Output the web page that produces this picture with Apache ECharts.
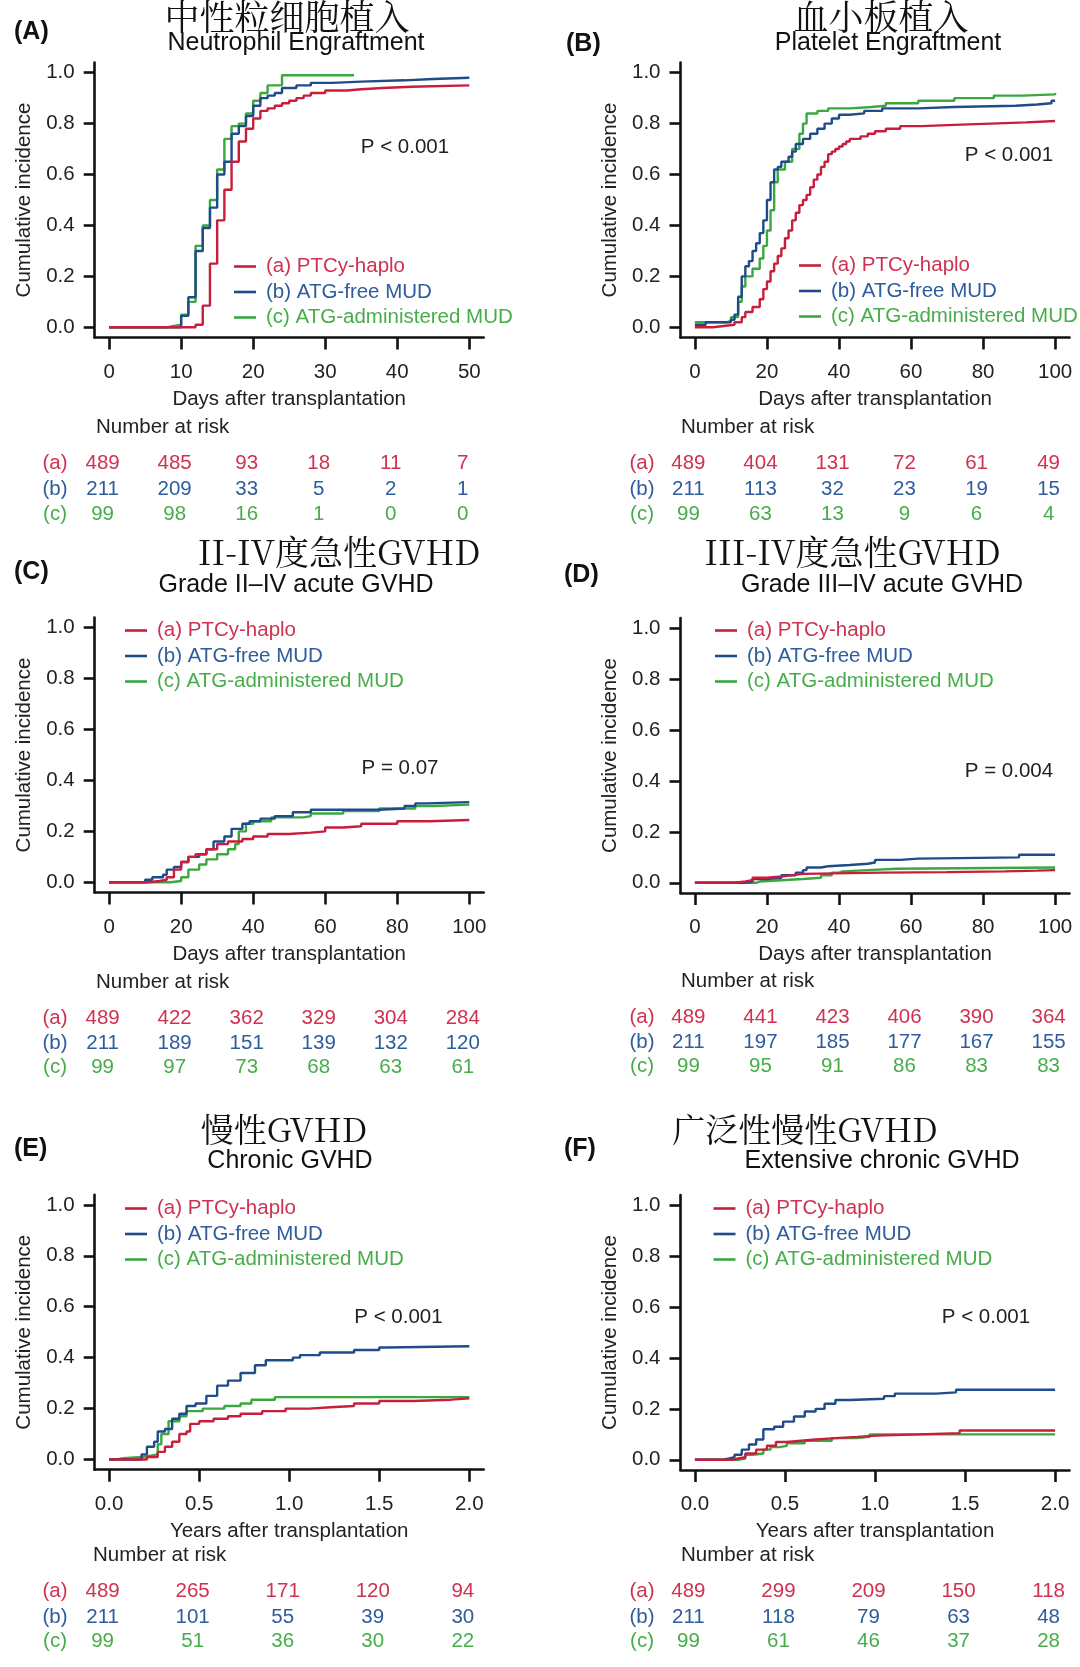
<!DOCTYPE html>
<html><head><meta charset="utf-8">
<script src="https://cdn.jsdelivr.net/npm/echarts@6/dist/echarts.min.js"></script>
<style>html,body{margin:0;padding:0;background:#fff}#c{width:1080px;height:1667px}</style>
</head><body><div id="c"></div>
<script>
// ---------- DATA ----------
const groupNames = ['(a) PTCy-haplo', '(b) ATG-free MUD', '(c) ATG-administered MUD'];
const groupTags = ['(a)', '(b)', '(c)'];

const ticksY = [0, 0.2, 0.4, 0.6, 0.8, 1.0];
const ticksDays50 = [0, 10, 20, 30, 40, 50];
const ticksDays100 = [0, 20, 40, 60, 80, 100];
const ticksYears = [0, 0.5, 1.0, 1.5, 2.0];

// (A) Neutrophil engraftment
const neutA = [[0,0],[12,0.01],[13,0.085],[14,0.25],[15,0.42],[16,0.54],[17,0.65],[18,0.73],[19,0.78],[20,0.82],[21,0.85],[22,0.86],[23,0.87],[24,0.88],[25,0.89],[26,0.9],[27,0.91],[28,0.92],[30,0.93],[33,0.935],[35,0.94],[38,0.945],[42,0.95],[50,0.95]];
const neutB = [[0,0],[10,0.045],[11,0.118],[12,0.3],[13,0.39],[14,0.47],[15,0.6],[16,0.65],[17,0.76],[18,0.79],[19,0.83],[20,0.87],[21,0.9],[22,0.91],[23,0.92],[24,0.94],[26,0.95],[28,0.96],[31,0.965],[35,0.97],[41,0.975],[45,0.98],[50,0.98]];
const neutC = [[0,0],[8,0.005],[9,0.01],[10,0.05],[11,0.1],[12,0.32],[13,0.4],[14,0.5],[15,0.62],[16,0.74],[17,0.79],[18,0.8],[19,0.84],[20,0.89],[21,0.92],[22,0.95],[24,0.99],[34,0.99]];

// (B) Platelet engraftment
const pltA = [[0,0],[5,0.005],[8,0.01],[11,0.02],[13,0.04],[14,0.06],[16,0.08],[18,0.11],[19,0.15],[20,0.18],[21,0.22],[22,0.25],[23,0.28],[24,0.31],[25,0.35],[26,0.38],[27,0.42],[28,0.45],[29,0.48],[30,0.5],[31,0.52],[32,0.55],[33,0.58],[34,0.6],[35,0.63],[36,0.65],[37,0.68],[38,0.69],[39,0.7],[40,0.71],[41,0.72],[42,0.73],[43,0.74],[46,0.75],[48,0.76],[50,0.77],[53,0.78],[57,0.79],[63,0.795],[72,0.8],[82,0.805],[92,0.81],[100,0.81]];
const pltB = [[0,0.01],[3,0.02],[10,0.03],[11,0.05],[12,0.12],[13,0.2],[14,0.24],[15,0.26],[16,0.3],[17,0.33],[18,0.37],[19,0.42],[20,0.5],[21,0.57],[22,0.62],[23,0.63],[24,0.65],[26,0.67],[27,0.69],[28,0.72],[30,0.74],[32,0.76],[34,0.78],[36,0.8],[38,0.82],[40,0.835],[43,0.84],[47,0.85],[52,0.86],[62,0.865],[72,0.87],[89,0.875],[95,0.88],[99,0.89],[100,0.89]];
const pltC = [[0,0.02],[9,0.025],[10,0.04],[12,0.1],[13,0.16],[14,0.2],[16,0.23],[18,0.27],[19,0.32],[20,0.38],[21,0.46],[22,0.57],[23,0.62],[25,0.65],[27,0.7],[29,0.76],[30,0.8],[31,0.84],[34,0.85],[37,0.86],[43,0.865],[49,0.87],[53,0.88],[62,0.89],[72,0.9],[83,0.91],[91,0.915],[100,0.92]];

// (C) Grade II-IV acute GVHD
const agvhA = [[0,0],[8,0],[11,0.005],[14,0.01],[16,0.02],[18,0.05],[20,0.08],[22,0.1],[24,0.11],[27,0.13],[30,0.15],[33,0.16],[37,0.17],[40,0.18],[44,0.19],[50,0.195],[56,0.2],[60,0.215],[65,0.22],[70,0.23],[80,0.24],[89,0.245],[100,0.245]];
const agvhB = [[0,0],[10,0.01],[12,0.02],[15,0.03],[16,0.05],[18,0.06],[20,0.08],[22,0.1],[25,0.11],[27,0.13],[29,0.16],[32,0.18],[34,0.21],[37,0.23],[39,0.24],[42,0.25],[46,0.26],[51,0.275],[56,0.285],[75,0.29],[82,0.3],[85,0.31],[88,0.315],[100,0.315]];
const agvhC = [[0,0],[17,0.005],[20,0.02],[22,0.05],[25,0.07],[27,0.09],[30,0.11],[33,0.13],[35,0.15],[36,0.2],[38,0.23],[40,0.24],[45,0.255],[54,0.26],[56,0.27],[65,0.28],[75,0.29],[85,0.3],[90,0.305],[100,0.305]];

// (D) Grade III-IV acute GVHD
const sgvhA = [[0,0],[11,0.005],[14,0.01],[16,0.02],[20,0.025],[24,0.03],[27,0.035],[30,0.04],[52,0.042],[70,0.045],[86,0.048],[95,0.05],[100,0.05]];
const sgvhB = [[0,0],[14,0.005],[16,0.015],[20,0.02],[24,0.03],[28,0.04],[30,0.05],[31,0.06],[35,0.065],[37,0.07],[43,0.075],[48,0.08],[50,0.09],[57,0.095],[62,0.1],[90,0.11],[100,0.11]];
const sgvhC = [[0,0],[17,0.005],[18,0.01],[24,0.015],[30,0.02],[35,0.03],[38,0.04],[40,0.045],[41,0.05],[48,0.055],[56,0.06],[100,0.06]];

// (E) Chronic GVHD (years)
const cgvhA = [[0,0],[0.16,0],[0.21,0.01],[0.27,0.03],[0.31,0.05],[0.35,0.07],[0.39,0.1],[0.43,0.11],[0.45,0.14],[0.5,0.15],[0.58,0.16],[0.66,0.17],[0.73,0.18],[0.85,0.19],[0.98,0.2],[1.11,0.205],[1.23,0.21],[1.36,0.22],[1.5,0.23],[1.69,0.235],[1.9,0.24],[2,0.24]];
const cgvhB = [[0,0],[0.18,0.02],[0.21,0.05],[0.25,0.07],[0.27,0.11],[0.31,0.12],[0.35,0.16],[0.39,0.18],[0.43,0.21],[0.48,0.22],[0.54,0.25],[0.6,0.29],[0.66,0.31],[0.73,0.34],[0.81,0.37],[0.87,0.39],[1.02,0.4],[1.06,0.41],[1.17,0.42],[1.36,0.43],[1.5,0.44],[1.54,0.445],[2,0.445]];
const cgvhC = [[0,0],[0.04,0.005],[0.08,0.01],[0.18,0.015],[0.23,0.02],[0.27,0.06],[0.29,0.1],[0.33,0.15],[0.39,0.17],[0.43,0.19],[0.52,0.2],[0.64,0.21],[0.73,0.22],[0.79,0.235],[0.92,0.245],[2,0.245]];

// (F) Extensive chronic GVHD (years)
const ecgvhA = [[0,0],[0.21,0.005],[0.24,0.01],[0.28,0.025],[0.34,0.04],[0.4,0.055],[0.45,0.07],[0.51,0.075],[0.59,0.08],[0.67,0.085],[0.78,0.09],[0.9,0.095],[1.01,0.1],[1.24,0.105],[1.47,0.115],[2,0.115]];
const ecgvhB = [[0,0],[0.15,0.005],[0.19,0.01],[0.22,0.02],[0.26,0.04],[0.3,0.06],[0.34,0.08],[0.38,0.12],[0.44,0.13],[0.49,0.15],[0.55,0.17],[0.61,0.19],[0.67,0.2],[0.72,0.22],[0.78,0.235],[0.86,0.24],[1.05,0.25],[1.11,0.26],[1.34,0.265],[1.45,0.275],[2,0.275]];
const ecgvhC = [[0,0],[0.24,0.005],[0.28,0.02],[0.32,0.025],[0.38,0.04],[0.42,0.05],[0.47,0.055],[0.51,0.065],[0.61,0.075],[0.76,0.085],[0.9,0.09],[0.97,0.1],[2,0.1]];

// Number at risk
const riskNeut = [[489,485,93,18,11,7],[211,209,33,5,2,1],[99,98,16,1,0,0]];
const riskPlt = [[489,404,131,72,61,49],[211,113,32,23,19,15],[99,63,13,9,6,4]];
const riskAgvh = [[489,422,362,329,304,284],[211,189,151,139,132,120],[99,97,73,68,63,61]];
const riskSgvh = [[489,441,423,406,390,364],[211,197,185,177,167,155],[99,95,91,86,83,83]];
const riskCgvh = [[489,265,171,120,94],[211,101,55,39,30],[99,51,36,30,22]];
const riskEcgvh = [[489,299,209,150,118],[211,118,79,63,48],[99,61,46,37,28]];

const pTexts = ['P < 0.001', 'P < 0.001', 'P = 0.07', 'P = 0.004', 'P < 0.001', 'P < 0.001'];
const zhTitles = ['中性粒细胞植入', '血小板植入', 'II-IV度急性GVHD', 'III-IV度急性GVHD', '慢性GVHD', '广泛性慢性GVHD'];
const enTitles = ['Neutrophil Engraftment', 'Platelet Engraftment', 'Grade II\u2013IV acute GVHD', 'Grade III\u2013IV acute GVHD', 'Chronic GVHD', 'Extensive chronic GVHD'];
const panelTags = ['(A)', '(B)', '(C)', '(D)', '(E)', '(F)'];
const xTitleDays = 'Days after transplantation';
const xTitleYears = 'Years after transplantation';

// ---------- STYLE / LAYOUT ----------
const lineColors = ['#C81E3C', '#1F4B8A', '#3AA83F'];
const textColors = ['#CF3150', '#2E5C9C', '#47AD4A'];
const SANS = "'Liberation Sans', Arial, Helvetica, sans-serif";
const ZH = "'Noto Serif CJK SC', 'Noto Sans Mono CJK SC', 'Noto Sans CJK SC', serif";
const FS = 20.5;

const panels = [
  {curves:[neutA,neutB,neutC], risk:riskNeut, ticks:ticksDays50, xr:[-2,52], xTitle:xTitleDays, fmt:v=>String(v),
   left:94.7, top:62.5, legLeft:229, legTop:251, zh:[287,17], en:[296,43], tag:[14,32], p:[405,147],
   nar:[96,427], rows:[463.5,489,514.5], rowTagX:55, zhSize:35},
  {curves:[pltA,pltB,pltC], risk:riskPlt, ticks:ticksDays100, xr:[-4,104], xTitle:xTitleDays, fmt:v=>String(v),
   left:680.5, top:62.5, legLeft:794, legTop:250, zh:[881,17], en:[888,43], tag:[566,44], p:[1009,155],
   nar:[681,427], rows:[463.5,489,514.5], rowTagX:642, zhSize:35},
  {curves:[agvhA,agvhB,agvhC], risk:riskAgvh, ticks:ticksDays100, xr:[-4,104], xTitle:xTitleDays, fmt:v=>String(v),
   left:94.7, top:617.5, legLeft:120, legTop:615, zh:[339,552], en:[296,585.5], tag:[14,572.5], p:[400,768],
   nar:[96,982], rows:[1018,1043,1067.5], rowTagX:55, zhSize:34},
  {curves:[sgvhA,sgvhB,sgvhC], risk:riskSgvh, ticks:ticksDays100, xr:[-4,104], xTitle:xTitleDays, fmt:v=>String(v),
   left:680.5, top:618, legLeft:710, legTop:615, zh:[852.5,552], en:[882,585.5], tag:[564,575], p:[1009,771],
   nar:[681,981], rows:[1017,1042,1066.5], rowTagX:642, zhSize:34},
  {curves:[cgvhA,cgvhB,cgvhC], risk:riskCgvh, ticks:ticksYears, xr:[-0.08,2.08], xTitle:xTitleYears, fmt:v=>v.toFixed(1),
   left:94.7, top:1194.7, legLeft:120, legTop:1193, zh:[284,1129], en:[290,1161.5], tag:[14,1149], p:[398.5,1317],
   nar:[93,1555.5], rows:[1591.5,1617,1641], rowTagX:55, zhSize:33},
  {curves:[ecgvhA,ecgvhB,ecgvhC], risk:riskEcgvh, ticks:ticksYears, xr:[-0.08,2.08], xTitle:xTitleYears, fmt:v=>v.toFixed(1),
   left:680.5, top:1195, legLeft:708.5, legTop:1193, zh:[805,1129], en:[882,1161.5], tag:[564,1149], p:[986,1317],
   nar:[681,1555.5], rows:[1591.5,1617,1641], rowTagX:642, zhSize:33}
];
const GW = 389, GH = 275;

const chart = echarts.init(document.getElementById('c'), null, {renderer:'canvas'});

const grid = [], xAxis = [], yAxis = [], series = [], legend = [], graphic = [];
const axisLineStyle = {color:'#111', width:2.6};

panels.forEach((p, i) => {
  grid.push({left:p.left, top:p.top, width:GW, height:GH, containLabel:false});
  xAxis.push({
    type:'value', gridIndex:i, min:p.xr[0], max:p.xr[1],
    axisLine:{show:true, onZero:false, lineStyle:axisLineStyle},
    axisTick:{show:true, length:12, lineStyle:axisLineStyle, customValues:p.ticks},
    axisLabel:{show:true, customValues:p.ticks, formatter:p.fmt, fontSize:FS, fontFamily:SANS, color:'#222', margin:24},
    splitLine:{show:false},
    name:p.xTitle, nameLocation:'middle', nameGap:51,
    nameTextStyle:{fontSize:FS, fontFamily:SANS, color:'#222'}
  });
  yAxis.push({
    type:'value', gridIndex:i, min:-0.04, max:1.04,
    axisLine:{show:true, onZero:false, lineStyle:axisLineStyle},
    axisTick:{show:true, length:11, lineStyle:axisLineStyle, customValues:ticksY},
    axisLabel:{show:true, customValues:ticksY, formatter:v=>v.toFixed(1), fontSize:FS, fontFamily:SANS, color:'#222', margin:20},
    splitLine:{show:false},
    name:'Cumulative incidence', nameLocation:'middle', nameGap:60,
    nameTextStyle:{fontSize:FS, fontFamily:SANS, color:'#222'}
  });
  p.curves.forEach((d, k) => {
    series.push({
      type:'line', name:groupNames[k], xAxisIndex:i, yAxisIndex:i, data:d, step:'end',
      showSymbol:false, symbol:'none', lineStyle:{color:lineColors[k], width:2.4}, itemStyle:{color:lineColors[k]},
      silent:true, z:5 - k
    });
  });
  legend.push({
    left:p.legLeft, top:p.legTop, orient:'vertical', itemWidth:22, itemHeight:2.6, itemGap:4.5,
    icon:'rect', selectedMode:false,
    data:groupNames.map((n, k) => ({name:n, itemStyle:{color:lineColors[k]}, textStyle:{color:textColors[k]}})),
    textStyle:{fontSize:FS, fontFamily:SANS, lineHeight:20, padding:[0,0,0,5]}
  });
  // titles & labels
  graphic.push({type:'text', silent:true, style:{text:zhTitles[i], x:p.zh[0], y:p.zh[1], textAlign:'center', align:'center', textVerticalAlign:'middle', verticalAlign:'middle', font:'normal ' + p.zhSize + 'px ' + ZH, fill:'#111'}});
  graphic.push({type:'text', silent:true, style:{text:enTitles[i], x:p.en[0], y:p.en[1], textAlign:'center', align:'center', textVerticalAlign:'middle', verticalAlign:'middle', font:'normal 25px ' + SANS, fill:'#111'}});
  graphic.push({type:'text', silent:true, style:{text:panelTags[i], x:p.tag[0], y:p.tag[1], textAlign:'left', align:'left', textVerticalAlign:'middle', verticalAlign:'middle', font:'bold 25px ' + SANS, fill:'#111'}});
  graphic.push({type:'text', silent:true, style:{text:pTexts[i], x:p.p[0], y:p.p[1], textAlign:'center', align:'center', textVerticalAlign:'middle', verticalAlign:'middle', font:'normal ' + FS + 'px ' + SANS, fill:'#222'}});
  graphic.push({type:'text', silent:true, style:{text:'Number at risk', x:p.nar[0], y:p.nar[1], textAlign:'left', align:'left', textVerticalAlign:'middle', verticalAlign:'middle', font:'normal ' + FS + 'px ' + SANS, fill:'#222'}});
  groupTags.forEach((t, k) => {
    graphic.push({type:'text', silent:true, style:{text:t, x:p.rowTagX, y:p.rows[k], textAlign:'center', align:'center', textVerticalAlign:'middle', verticalAlign:'middle', font:'normal ' + FS + 'px ' + SANS, fill:textColors[k]}});
  });
});

chart.setOption({animation:false, backgroundColor:'#fff', grid, xAxis, yAxis, series, legend, graphic});

// risk table numbers positioned at the axis' own tick positions
const riskGraphic = graphic.slice();
panels.forEach((p, i) => {
  p.risk.forEach((row, k) => {
    row.forEach((n, j) => {
      const px = chart.convertToPixel({xAxisIndex:i}, p.ticks[j]) - 6.5;
      riskGraphic.push({type:'text', silent:true, style:{text:String(n), x:px, y:p.rows[k], textAlign:'center', align:'center', textVerticalAlign:'middle', verticalAlign:'middle', font:'normal ' + FS + 'px ' + SANS, fill:textColors[k]}});
    });
  });
});
chart.setOption({graphic:riskGraphic}, {replaceMerge:['graphic']});
</script></body></html>
